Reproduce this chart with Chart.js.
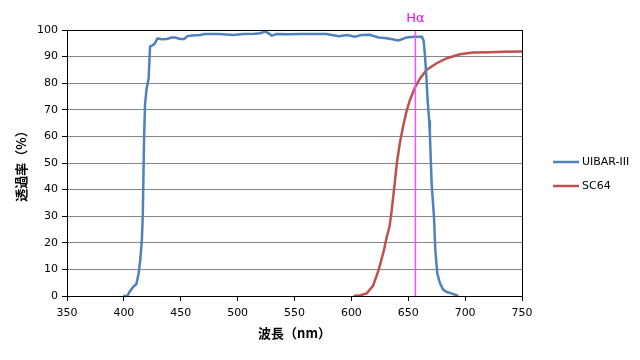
<!DOCTYPE html>
<html>
<head>
<meta charset="utf-8">
<script src="https://cdn.jsdelivr.net/npm/chart.js@4"></script>
<style>
  html, body { margin: 0; padding: 0; background: #fff; }
  #wrap { width: 640px; height: 360px; }
</style>
</head>
<body>
<div id="wrap"><canvas id="myChart"></canvas></div>
<script>
// UIBAR-III transmission (wavelength nm / percent)
const uibarNm = [399.4, 403, 405, 408.4, 411, 413, 414.5, 415.8, 416.6, 417.2, 417.8, 418.6, 420, 421.8, 423, 425, 427, 429.5, 433.3, 437.7, 442, 445, 449.5, 453, 456, 460, 467, 471, 484, 496, 505, 515, 520, 524, 527, 530, 534, 545, 555, 568, 578, 589, 596, 603, 609, 616, 624, 631, 636, 641, 645, 648.5, 655, 660, 662, 663.5, 664.6, 666, 667, 668.4, 669, 670.6, 672.6, 673.8, 675.5, 677.9, 680.8, 684, 688, 691, 694];
const uibarT = [0, 0, 1.6, 3.5, 4.5, 8.5, 14, 21, 30, 45, 60, 72, 78, 82, 93.8, 94.2, 94.8, 96.8, 96.5, 96.6, 97.2, 97.2, 96.6, 96.6, 97.7, 97.9, 98.1, 98.5, 98.5, 98.1, 98.5, 98.6, 98.8, 99.4, 98.8, 97.9, 98.5, 98.4, 98.5, 98.5, 98.5, 97.7, 98.1, 97.5, 98.1, 98.2, 97.2, 96.9, 96.5, 96.1, 96.6, 97.2, 97.5, 97.5, 97.5, 96, 91, 82, 73.7, 66, 61, 42, 30, 17.3, 8.5, 4.8, 2.3, 1.5, 1, 0.5, 0];

// SC64 transmission
const sc64Nm = [602, 608, 613.5, 619, 624, 628.5, 631, 633.5, 635.4, 637.5, 640, 642.6, 645.6, 648.5, 651.5, 656, 660.4, 666, 675, 684, 695.5, 707, 722, 735, 750];
const sc64T = [0, 0.3, 1, 3.8, 9.8, 17, 22, 26, 32, 40, 50, 57.4, 64, 69.5, 73.7, 78.5, 81.8, 85, 87.5, 89.4, 90.9, 91.5, 91.6, 91.8, 91.9];

// H-alpha marker
const haNm = [656.3, 656.3];
const haT = [0, 100];

const seriesNames = ['UIBAR-III', 'SC64'];
const xLabel = '波長（nm）';
const yLabel = '透過率（%）';

const toPoints = (xs, ys) => xs.map((x, i) => ({x: x, y: ys[i]}));

const tickFont = {family: 'DejaVu Sans', size: 11};
const titleFont = {family: 'Noto Sans CJK JP', size: 13, weight: 'bold'};

const frameAndExtras = {
  id: 'frameAndExtras',
  afterDraw(chart) {
    const ctx = chart.ctx;
    const a = chart.chartArea;
    ctx.save();
    // plot border
    ctx.strokeStyle = '#000';
    ctx.lineWidth = 1;
    ctx.strokeRect(a.left + 0.5, a.top + 0.5, a.right - a.left, a.bottom - a.top);
    // H-alpha label
    const hx = chart.scales.x.getPixelForValue(haNm[0]);
    ctx.fillStyle = '#FF00FF';
    ctx.font = '13px "DejaVu Sans"';
    ctx.textAlign = 'center';
    ctx.textBaseline = 'middle';
    ctx.fillText('Hα', hx, 19);
    // legend (series datasets only)
    ctx.font = '11px "DejaVu Sans"';
    ctx.textAlign = 'left';
    ctx.fillStyle = '#000';
    [1, 2].forEach((k, n) => {
      const ds = chart.data.datasets[k];
      const y = 162 + n * 24;
      ctx.strokeStyle = ds.borderColor;
      ctx.lineWidth = ds.borderWidth;
      ctx.beginPath();
      ctx.moveTo(553, y);
      ctx.lineTo(579, y);
      ctx.stroke();
      ctx.fillText(ds.label, 582, y);
    });
    ctx.restore();
  }
};

new Chart(document.getElementById('myChart'), {
  type: 'line',
  data: {
    datasets: [{
      label: 'Hα',
      data: toPoints(haNm, haT),
      borderColor: '#FF4DFF',
      borderWidth: 1.5,
      pointRadius: 0,
      order: 0
    }, {
      label: seriesNames[0],
      data: toPoints(uibarNm, uibarT),
      borderColor: '#4F81BD',
      borderWidth: 2.5,
      pointRadius: 0,
      order: 1
    }, {
      label: seriesNames[1],
      data: toPoints(sc64Nm, sc64T),
      borderColor: '#C0504D',
      borderWidth: 2.5,
      pointRadius: 0,
      order: 2
    }]
  },
  options: {
    responsive: true,
    maintainAspectRatio: false,
    animation: false,
    layout: {
      padding: {top: 30, right: 118, bottom: 0, left: 0}
    },
    plugins: {
      legend: {display: false},
      tooltip: {enabled: false}
    },
    scales: {
      x: {
        type: 'linear',
        min: 350,
        max: 750,
        afterFit: (scale) => { scale.height = 64; },
        border: {color: '#000', width: 1},
        grid: {
          drawOnChartArea: false,
          tickColor: '#000',
          tickLength: 5
        },
        ticks: {
          stepSize: 50,
          color: '#000',
          font: tickFont,
          padding: 6,
          maxRotation: 0
        },
        title: {
          display: true,
          text: xLabel,
          color: '#000',
          font: titleFont,
          padding: {top: 0, bottom: 19}
        }
      },
      y: {
        min: 0,
        max: 100,
        afterFit: (scale) => { scale.width = 67; },
        border: {color: '#000', width: 1},
        grid: {
          color: '#868686',
          tickColor: '#000',
          tickLength: 5
        },
        ticks: {
          stepSize: 10,
          color: '#000',
          font: tickFont,
          padding: 4
        },
        title: {
          display: true,
          text: yLabel,
          color: '#000',
          font: titleFont,
          padding: {top: 13, bottom: 0}
        }
      }
    }
  },
  plugins: [frameAndExtras]
});
</script>
</body>
</html>
